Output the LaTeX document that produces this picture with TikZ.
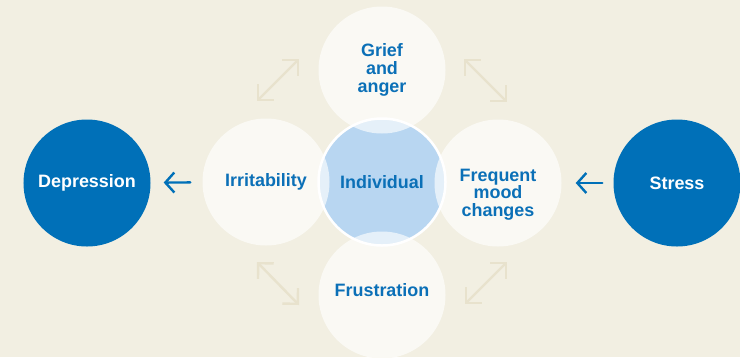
\documentclass[tikz,border=0pt]{standalone}
\usepackage{fontspec}
\setmainfont{Liberation Sans}
\usetikzlibrary{arrows.meta}
\definecolor{bg}{HTML}{F2EFE2}
\definecolor{dblue}{HTML}{0070B8}
\definecolor{tblue}{HTML}{0B70B7}
\definecolor{cream}{HTML}{FAF9F4}
\definecolor{lblue}{HTML}{B8D6F1}
\definecolor{pale}{HTML}{E8E2CD}
\begin{document}
\begin{tikzpicture}[x=1bp,y=-1bp,
  circ/.style={circle, minimum size=127bp, inner sep=0pt, align=center,
    font=\fontsize{18}{17.8}\selectfont\bfseries},
  dark/.style={circ, fill=dblue, text=white},
  light/.style={circ, fill=cream, text=tblue},
  arr/.style={draw=dblue, line width=2.4bp, line cap=round, line join=round,
    -{Straight Barb[length=9bp,width=20bp]}},
  diag/.style={draw=pale, line width=2.4bp, line cap=round,
    {Straight Barb[length=11bp,width=22bp]}-{Straight Barb[length=11bp,width=22bp]}}
]
\useasboundingbox (0,0) rectangle (740,357);
\clip (0,0) rectangle (740,357);
\fill[bg] (0,0) rectangle (740,357);

% diagonal double arrows
\coordinate (tl1) at (257,101); \coordinate (tl2) at (299,59);
\coordinate (tr1) at (464,59);  \coordinate (tr2) at (507,102);
\coordinate (bl1) at (257,262); \coordinate (bl2) at (299,305);
\coordinate (br1) at (465,304); \coordinate (br2) at (507,262);
\draw[diag] (tl1) -- (tl2);
\draw[diag] (tr1) -- (tr2);
\draw[diag] (bl1) -- (bl2);
\draw[diag] (br1) -- (br2);

% outer circles
\node[dark]  (dep)    at (87,183)  {Depression};
\node[dark]  (stress) at (677,183) {Stress};
\node[light] (irr)    at (266,182) {Irritability};
\node[light] (grief)  at (382,70)  {Grief\\and\\anger};
\node[light] (freq) at (498,183) {\rule{0pt}{35.5bp}Frequent\\mood\\changes};
\node[light, text height=14bp, text depth=12bp] (frus) at (382,295) {Frustration};

% individual with lighter overlaps
\fill[lblue] (382,182) circle (63.5);
\begin{scope}
  \clip (382,182) circle (63.5);
  \fill[white, fill opacity=0.64] (266,182) circle (63.5);
  \fill[white, fill opacity=0.64] (382,70) circle (63.5);
  \fill[white, fill opacity=0.64] (498,183) circle (63.5);
  \fill[white, fill opacity=0.64] (382,295) circle (63.5);
\end{scope}
\node[circ, draw=white, line width=2.5bp, text=tblue] (ind) at (382,182) {Individual};

% arrows
\draw[arr, shorten <=12bp, shorten >=13bp] (irr) -- (dep);
\draw[arr, shorten <=11bp, shorten >=14bp] (stress) -- (freq);
\end{tikzpicture}
\end{document}
